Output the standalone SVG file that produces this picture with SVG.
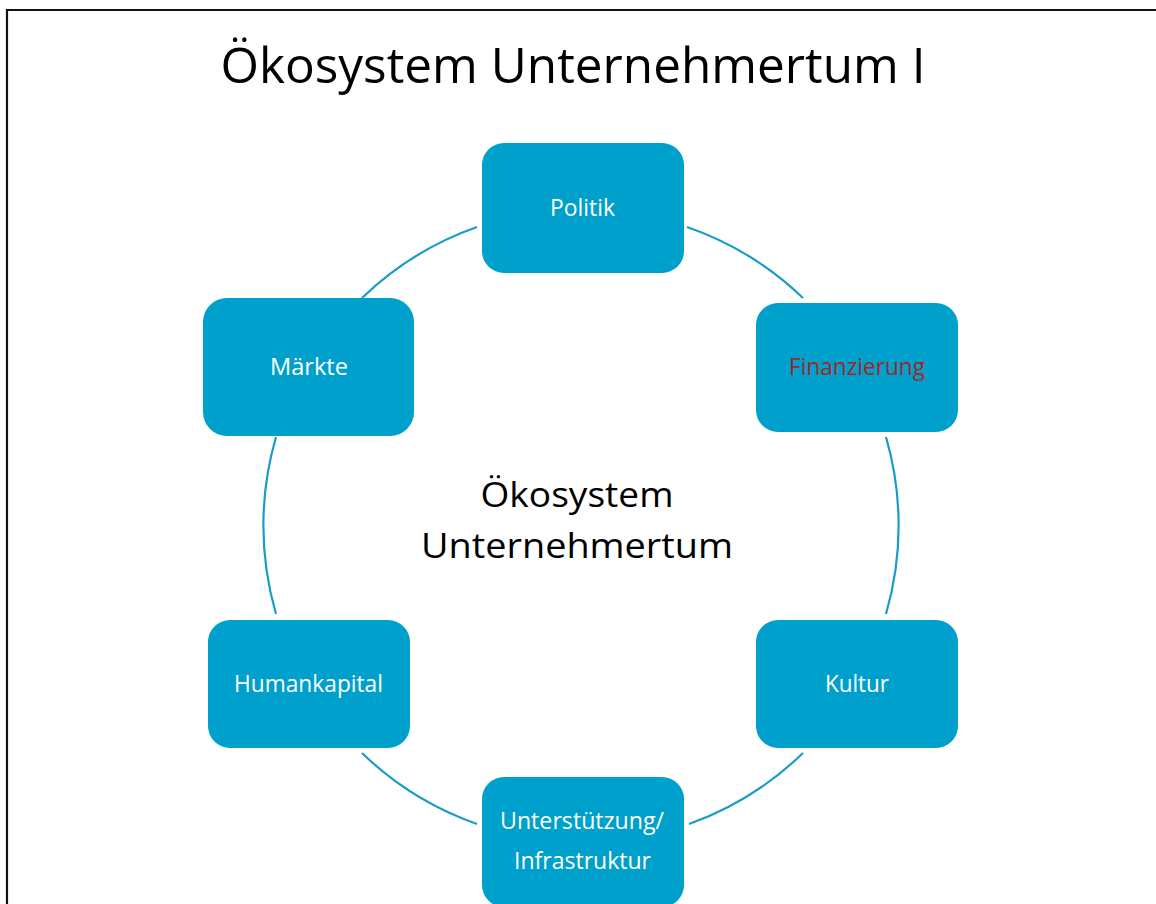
<svg xmlns="http://www.w3.org/2000/svg" width="1156" height="904" viewBox="0 0 1156 904">
<style>
.box{fill:#00A0CC;}
.lbl{font-family:"Open Sans","Liberation Sans",sans-serif;font-size:23px;fill:#FFFFFF;text-anchor:middle;}
.red{fill:#A0282A;}
.arc{fill:none;stroke:#1A9CC9;stroke-width:2.2;}
.big{font-family:"Open Sans","Liberation Sans",sans-serif;fill:#000000;text-anchor:middle;}
</style>
<rect x="0" y="0" width="1156" height="904" fill="#FFFFFF"/>
<path d="M7 904 V10 H1156" fill="none" stroke="#111111" stroke-width="2.2"/>
<text class="big" x="573" y="83" font-size="50" textLength="705" lengthAdjust="spacingAndGlyphs">Ökosystem Unternehmertum I</text>
<g id="connectors">
<path class="arc" d="M687 227 A316.5 316.5 0 0 1 803 298"/>
<path class="arc" d="M886 437 A316.5 316.5 0 0 1 886 614"/>
<path class="arc" d="M803 753 A316.5 316.5 0 0 1 689 824"/>
<path class="arc" d="M477 824 A316.5 316.5 0 0 1 362 753"/>
<path class="arc" d="M276 614 A316.5 316.5 0 0 1 276 437"/>
<path class="arc" d="M362 298 A316.5 316.5 0 0 1 477 227"/>
</g>
<g id="center">
<text class="big" x="577" y="507" font-size="35" textLength="193" lengthAdjust="spacingAndGlyphs">Ökosystem</text>
<text class="big" x="577" y="558" font-size="35" textLength="312" lengthAdjust="spacingAndGlyphs">Unternehmertum</text>
</g>
<g id="politik">
<rect class="box" x="482" y="143" width="202" height="130" rx="22"/>
<text class="lbl" x="582.5" y="216" textLength="65" lengthAdjust="spacingAndGlyphs">Politik</text>
</g>
<g id="maerkte">
<rect class="box" x="203" y="298" width="211" height="138" rx="24"/>
<text class="lbl" x="309" y="375" textLength="78" lengthAdjust="spacingAndGlyphs">Märkte</text>
</g>
<g id="finanzierung">
<rect class="box" x="756" y="303" width="202" height="129" rx="22"/>
<text class="lbl red" x="857" y="375" textLength="136" lengthAdjust="spacingAndGlyphs">Finanzierung</text>
</g>
<g id="humankapital">
<rect class="box" x="208" y="620" width="202" height="128" rx="22"/>
<text class="lbl" x="308.5" y="692" textLength="149" lengthAdjust="spacingAndGlyphs">Humankapital</text>
</g>
<g id="kultur">
<rect class="box" x="756" y="620" width="202" height="128" rx="22"/>
<text class="lbl" x="857" y="692" textLength="64" lengthAdjust="spacingAndGlyphs">Kultur</text>
</g>
<g id="unterstuetzung">
<rect class="box" x="482" y="777" width="202" height="130" rx="22"/>
<text class="lbl" x="582" y="829" textLength="164" lengthAdjust="spacingAndGlyphs">Unterstützung/</text>
<text class="lbl" x="582.5" y="869" textLength="137" lengthAdjust="spacingAndGlyphs">Infrastruktur</text>
</g>
</svg>
